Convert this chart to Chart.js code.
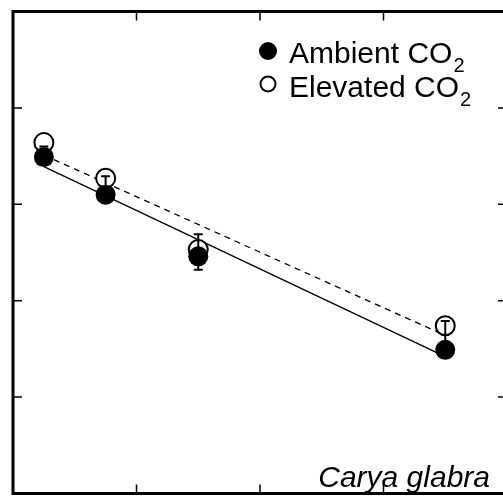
<!DOCTYPE html>
<html>
<head>
<meta charset="utf-8">
<script src="https://cdn.jsdelivr.net/npm/chart.js@4/dist/chart.umd.min.js"></script>
<style>
  html, body { margin: 0; padding: 0; background: #fff; overflow: hidden; }
  #wrap { position: relative; width: 503px; height: 501px; overflow: hidden; }
  canvas { display: block; }
</style>
</head>
<body>
<div id="wrap"><canvas id="chart" width="520" height="505"></canvas></div>
<script>
// sampling positions and leaf values for the two treatments
const xValues = [0.25, 0.75, 1.5, 3.5];
const ambientValues = [3.49, 3.10, 2.46, 1.49];
const elevatedValues = [3.64, 3.27, 2.53, 1.74];

// error bars (upper / lower half)
const ambientErrHigh = [0.11, 0.19, 0, 0.30];
const ambientErrLow = [0, 0, 0.14, 0];
const elevatedErrHigh = [0, 0, 0.16, 0];
const elevatedErrLow = [0, 0, 0, 0];

// regression lines, end points
const ambientFitX = [0.25, 3.5];
const ambientFitY = [3.39, 1.42];
const elevatedFitX = [0.25, 3.5];
const elevatedFitY = [3.51, 1.64];

// tick positions (no labels)
const xTicks = [1, 2, 3];
const yTicks = [1, 2, 3, 4];

const FONT = '"Liberation Sans", Arial, Helvetica, sans-serif';

const toPoints = (xs, ys) => xs.map((x, i) => ({ x: x, y: ys[i] }));

// frame, inward ticks, legend and species name
const framePlugin = {
    id: 'frame',
    afterDatasetDraw(chart, args) {
        // error bars go on top of the open circles, under the filled ones
        if (args.index !== 2) return;
        const ctx = chart.ctx;
        const xs = chart.scales.x;
        const ys = chart.scales.y;
        const sets = [
            [ambientValues, ambientErrHigh, ambientErrLow],
            [elevatedValues, elevatedErrHigh, elevatedErrLow],
        ];
        ctx.save();
        ctx.strokeStyle = '#000';
        ctx.lineWidth = 2;
        sets.forEach(([vals, hi, lo]) => {
            vals.forEach((v, i) => {
                const px = xs.getPixelForValue(xValues[i]);
                const pc = ys.getPixelForValue(v);
                [[hi[i], 1], [lo[i], -1]].forEach(([e, dir]) => {
                    if (!e) return;
                    const pe = ys.getPixelForValue(v + dir * e);
                    ctx.beginPath();
                    ctx.moveTo(px, pc);
                    ctx.lineTo(px, pe);
                    ctx.moveTo(px - 4.5, pe);
                    ctx.lineTo(px + 4.5, pe);
                    ctx.stroke();
                });
            });
        });
        ctx.restore();
    },
    afterDraw(chart) {
        const ctx = chart.ctx;
        const a = chart.chartArea;
        const xs = chart.scales.x;
        const ys = chart.scales.y;
        ctx.save();
        ctx.strokeStyle = '#000';
        ctx.lineWidth = 1.5;
        ctx.beginPath();
        xTicks.forEach(t => {
            const p = xs.getPixelForValue(t);
            ctx.moveTo(p, a.top); ctx.lineTo(p, a.top + 9);
            ctx.moveTo(p, a.bottom); ctx.lineTo(p, a.bottom - 9);
        });
        yTicks.forEach(t => {
            const p = ys.getPixelForValue(t);
            ctx.moveTo(a.left, p); ctx.lineTo(a.left + 9, p);
            ctx.moveTo(a.right, p); ctx.lineTo(a.right - 9, p);
        });
        ctx.stroke();

        ctx.lineWidth = 3;
        ctx.strokeRect(a.left, a.top, a.right - a.left, a.bottom - a.top);

        // legend
        ctx.fillStyle = '#000';
        ctx.beginPath();
        ctx.arc(268, 51, 9, 0, Math.PI * 2);
        ctx.fill();
        ctx.lineWidth = 2;
        ctx.beginPath();
        ctx.arc(268, 84, 7.5, 0, Math.PI * 2);
        ctx.fillStyle = '#fff';
        ctx.fill();
        ctx.stroke();

        ctx.fillStyle = '#000';
        ctx.textBaseline = 'alphabetic';
        ctx.textAlign = 'left';
        [['Ambient CO', 63], ['Elevated CO', 97]].forEach(([label, base]) => {
            ctx.font = '30px ' + FONT;
            ctx.fillText(label, 289, base);
            const w = ctx.measureText(label).width;
            ctx.font = '20px ' + FONT;
            ctx.fillText('2', 289 + w + 1, base + 9);
        });

        ctx.font = 'italic 30px ' + FONT;
        ctx.textAlign = 'right';
        ctx.fillText('Carya glabra', 490, 487);
        ctx.restore();
    }
};

new Chart(document.getElementById('chart'), {
    type: 'scatter',
    data: {
        datasets: [
            {
                label: 'Ambient fit',
                data: toPoints(ambientFitX, ambientFitY),
                showLine: true,
                borderColor: '#000',
                borderWidth: 1.3,
                pointRadius: 0,
                order: 5,
            },
            {
                label: 'Elevated fit',
                data: toPoints(elevatedFitX, elevatedFitY),
                showLine: true,
                borderColor: '#000',
                borderWidth: 1.3,
                borderDash: [6, 5],
                pointRadius: 0,
                order: 4,
            },
            {
                label: 'Elevated CO2',
                data: toPoints(xValues, elevatedValues),
                pointRadius: 9.5,
                pointBackgroundColor: '#fff',
                pointBorderColor: '#000',
                pointBorderWidth: 2,
                order: 3,
            },
            {
                label: 'Ambient CO2',
                data: toPoints(xValues, ambientValues),
                pointRadius: 10,
                pointBackgroundColor: '#000',
                pointBorderColor: '#000',
                pointBorderWidth: 0,
                order: 1,
            },
        ],
    },
    options: {
        responsive: false,
        animation: false,
        layout: { padding: { left: 13, top: 7, right: 13, bottom: 7 } },
        scales: {
            x: { type: 'linear', display: false, min: 0, max: 4 },
            y: { type: 'linear', display: false, min: 0, max: 5 },
        },
        plugins: {
            legend: { display: false },
            tooltip: { enabled: false },
        },
    },
    plugins: [framePlugin],
});
</script>
</body>
</html>
